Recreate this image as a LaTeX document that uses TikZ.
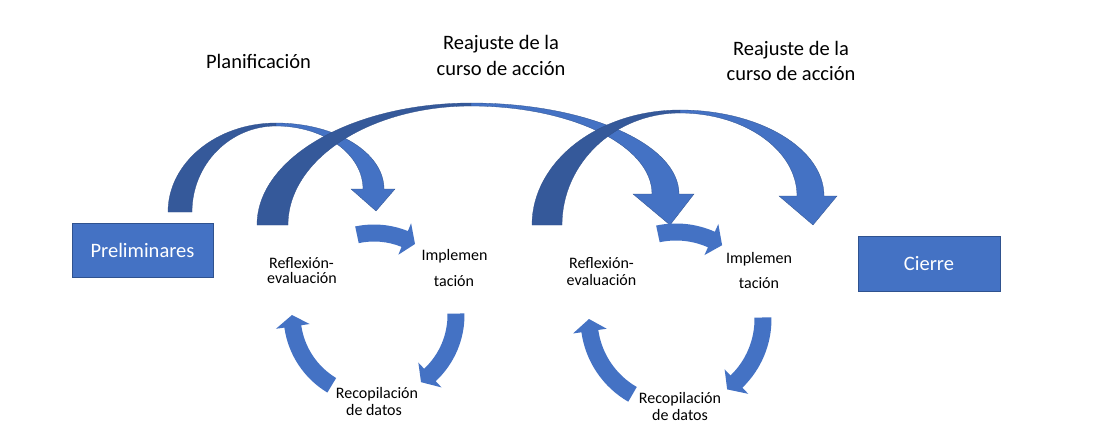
\documentclass[tikz,border=0pt]{standalone}
\usepackage{fontspec}
\setmainfont{Carlito}
\definecolor{obl}{HTML}{4472C4}
\definecolor{odk}{HTML}{35599A}
\definecolor{oedge}{HTML}{2F528F}
\tikzset{
  box/.style={fill=obl, draw=oedge, line width=0.8pt, text=white, inner sep=0pt,
    font=\fontsize{20.5}{25}\selectfont},
  arcdark/.style={fill=odk, draw=odk!90!black, line width=0.3pt},
  arclight/.style={fill=obl, draw=oedge, line width=0.3pt},
  cycfill/.style={fill=obl},
  toplbl/.style={anchor=base, inner sep=0pt, font=\fontsize{20.5}{25}\selectfont},
  cyclbl/.style={anchor=base, inner sep=0pt, font=\fontsize{16}{19}\selectfont},
}
% big curved-down arrow: #1 tail outer x, #2 tail inner x, #3 tail bottom y,
% #4 peak x, #5 peak outer y, #6 peak inner y, #7 shaft outer x, #8 shaft inner x, #9 head base y
\newcommand\toparc[9]{%
  \pgfmathsetmacro\aA{-(#3-0.552*(#3-#5))}%
  \pgfmathsetmacro\aB{#4-0.552*(#4-#1)}%
  \pgfmathsetmacro\aC{-(#3-0.552*(#3-#6))}%
  \pgfmathsetmacro\aD{#4-0.552*(#4-#2)}%
  \pgfmathsetmacro\aE{#4+0.552*(#7-#4)}%
  \pgfmathsetmacro\aF{-(#9-0.552*(#9-#5))}%
  \pgfmathsetmacro\aG{#4+0.552*(#8-#4)}%
  \pgfmathsetmacro\aH{-(#9-0.552*(#9-#6))}%
  \draw[arcdark] (#1,-#3) .. controls (#1,\aA) and (\aB,-#5) .. (#4,-#5)
     -- (#4,-#6) .. controls (\aD,-#6) and (#2,\aC) .. (#2,-#3) -- cycle;
  \draw[arclight] (#4,-#5) .. controls (\aE,-#5) and (#7,\aF) .. (#7,-#9)
     -- (\HR,-#9) -- (\TX,-\TY) -- (\HL,-#9) -- (#8,-#9)
     .. controls (#8,\aH) and (\aG,-#6) .. (#4,-#6) -- cycle;
}
% cycle arrow: #1 tail angle, #2 head base angle, #3 tip angle (radius \cycR)
\newcommand\cycarrow[3]{%
  \pgfmathsetmacro\ro{\cycR+8.5}\pgfmathsetmacro\ri{\cycR-8.5}%
  \pgfmathsetmacro\hro{\cycR+17}\pgfmathsetmacro\hri{\cycR-17}%
  \fill[cycfill] (#1:\ro) arc[start angle=#1, end angle=#2, radius=\ro]
    -- (#2:\hro) -- (#3:\cycR) -- (#2:\hri) -- (#2:\ri)
    arc[start angle=#2, end angle=#1, radius=\ri] -- cycle;
}
\begin{document}
\begin{tikzpicture}[x=1pt,y=1pt]
\useasboundingbox (0,0) rectangle (1102,-436);
\fill[white] (0,0) rectangle (1102,-436);

% big arcs
\def\HL{351}\def\HR{395}\def\TX{376}\def\TY{211}
\toparc{168}{192}{212}{276}{123}{126}{384}{363}{189}
\def\HL{633}\def\HR{694}\def\TX{670}\def\TY{225}
\toparc{257}{288}{225}{471}{103}{106}{679}{652}{194}
\def\HL{779}\def\HR{837}\def\TX{813}\def\TY{225}
\toparc{532}{562}{225}{680}{110}{113}{824}{797}{196}

% boxes
\node[box, minimum width=141pt, minimum height=54pt] (prelim) at (142.5,-250) {Preliminares};
\node[box, minimum width=142pt, minimum height=55pt] (cierre) at (929,-263.5) {Cierre};

% top labels
\node[toplbl] (plan) at (258.5,-68) {Planificación};
\node[toplbl] (reaj1a) at (501,-50) {Reajuste de la};
\node[toplbl] (reaj1b) at (501,-75) {curso de acción};
\node[toplbl] (reaj2a) at (791,-56) {Reajuste de la};
\node[toplbl] (reaj2b) at (791,-81) {curso de acción};

% left cycle
\begin{scope}[shift={(374,-315)}]
\def\cycR{82}
\cycarrow{102}{68}{60}
\cycarrow{1}{-47}{-55}
\cycarrow{239}{188}{180}
\end{scope}
\node[cyclbl] (refl1a) at (301.5,-268) {Reflexión-};
\node[cyclbl] (refl1b) at (302,-283) {evaluación};
\node[cyclbl] (impl1a) at (454.5,-260) {Implemen};
\node[cyclbl] (impl1b) at (454,-286) {tación};
\node[cyclbl] (reco1a) at (377,-398) {Recopilación};
\node[cyclbl] (reco1b) at (374,-415) {de datos};

% right cycle
\begin{scope}[shift={(676,-319)}]
\def\cycR{87}
\cycarrow{102}{66}{58}
\cycarrow{1}{-46}{-54}
\cycarrow{240}{188}{180}
\end{scope}
\node[cyclbl] (refl2a) at (601.5,-268) {Reflexión-};
\node[cyclbl] (refl2b) at (601.5,-285) {evaluación};
\node[cyclbl] (impl2a) at (759,-263) {Implemen};
\node[cyclbl] (impl2b) at (759,-288) {tación};
\node[cyclbl] (reco2a) at (680,-403) {Recopilación};
\node[cyclbl] (reco2b) at (680,-420) {de datos};
\end{tikzpicture}
\end{document}
